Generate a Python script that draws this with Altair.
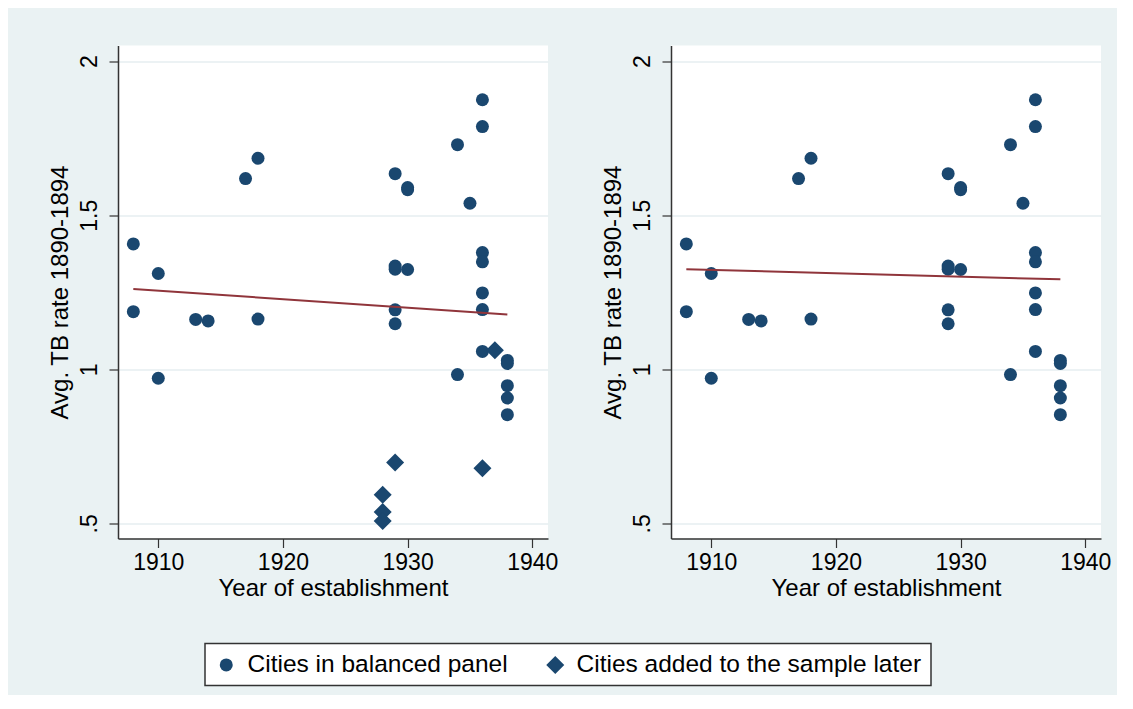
import altair as alt
import pandas as pd

# ---- data ----
circle_year = [1908, 1908, 1910, 1910, 1913, 1914, 1917, 1918, 1918,
               1929, 1929, 1929, 1929, 1929, 1930, 1930, 1930,
               1934, 1934, 1935,
               1936, 1936, 1936, 1936, 1936, 1936, 1936,
               1938, 1938, 1938, 1938, 1938]
circle_tb = [1.407, 1.187, 1.311, 0.971, 1.162, 1.157, 1.619, 1.685, 1.163,
             1.635, 1.335, 1.325, 1.193, 1.148, 1.590, 1.583, 1.324,
             1.729, 0.983, 1.539,
             1.875, 1.788, 1.379, 1.349, 1.248, 1.194, 1.058,
             1.029, 1.019, 0.947, 0.907, 0.853]

diamond_year = [1937, 1929, 1936, 1928, 1928, 1928]
diamond_tb = [1.062, 0.698, 0.679, 0.593, 0.537, 0.508]

fit_year = [1908, 1938]
fit_left = [1.261, 1.178]
fit_right = [1.325, 1.292]

groups = ["Cities in balanced panel", "Cities added to the sample later"]
x_ticks = [1910, 1920, 1930, 1940]
y_ticks = [0.5, 1, 1.5, 2]

# ---- tables ----
circles = pd.DataFrame({"year": circle_year, "tb": circle_tb, "group": groups[0]})
diamonds = pd.DataFrame({"year": diamond_year, "tb": diamond_tb, "group": groups[1]})
all_pts = pd.concat([circles, diamonds], ignore_index=True)
fitL = pd.DataFrame({"year": fit_year, "tb": fit_left})
fitR = pd.DataFrame({"year": fit_year, "tb": fit_right})

FONT = "Liberation Sans"
NAVY = "#1A476F"
MAROON = "#90353B"
AXC = "#333333"

xscale = alt.Scale(domain=[1906.77, 1941.26], nice=False, zero=False)
yscale = alt.Scale(domain=[0.451, 2.051], nice=False, zero=False)

xaxis = alt.Axis(values=x_ticks, title="Year of establishment", grid=False,
                 format="d", tickSize=9, labelPadding=4, titlePadding=2,
                 labelFontSize=23, titleFontSize=24, labelFont=FONT, titleFont=FONT,
                 titleFontWeight="normal",
                 domainColor=AXC, tickColor=AXC, domainWidth=1.5, tickWidth=1.2,
                 labelColor="black", titleColor="black", labelFlush=False)
yaxis = alt.Axis(values=y_ticks, title="Avg. TB rate 1890-1894", grid=True,
                 gridColor="#E6EEF1", gridWidth=1.6,
                 labelExpr="datum.value == 0.5 ? '.5' : toString(datum.value)",
                 labelAngle=270, labelAlign="center", labelBaseline="bottom",
                 tickSize=9, labelPadding=8, titlePadding=6,
                 labelFontSize=23, titleFontSize=24, labelFont=FONT, titleFont=FONT,
                 titleFontWeight="normal",
                 domainColor=AXC, tickColor=AXC, domainWidth=1.5, tickWidth=1.2,
                 labelColor="black", titleColor="black")

legend = alt.Legend(orient="none", legendX=87, legendY=598, direction="horizontal",
                    title=None, fillColor="white", strokeColor=AXC,
                    padding=9, labelFont=FONT, labelFontSize=24.5, labelColor="black",
                    labelOffset=9, columnPadding=35, symbolStrokeWidth=0,
                    symbolFillColor=NAVY, labelLimit=800)

shape_enc = alt.Shape("group:N", scale=alt.Scale(domain=groups, range=["circle", "diamond"]),
                      legend=legend)
size_enc = alt.Size("group:N", scale=alt.Scale(domain=groups, range=[169, 324]),
                    legend=legend)

W, H = 430, 493


def panel(pts, fit):
    p = alt.Chart(pts).mark_point(filled=True, color=NAVY, opacity=1).encode(
        x=alt.X("year:Q", scale=xscale, axis=xaxis),
        y=alt.Y("tb:Q", scale=yscale, axis=yaxis),
        shape=shape_enc,
        size=size_enc,
    )
    l = alt.Chart(fit).mark_line(color=MAROON, strokeWidth=2).encode(
        x=alt.X("year:Q", scale=xscale),
        y=alt.Y("tb:Q", scale=yscale),
    )
    return alt.layer(p, l).properties(width=W, height=H)


left = panel(all_pts, fitL)
right = panel(circles, fitR)

chart = alt.hconcat(left, right, spacing=43).resolve_scale(
    shape="shared", size="shared"
).properties(
    padding={"left": 40, "top": 37.5, "right": 6, "bottom": 8},
    background="#EAF2F3",
).configure_view(stroke=None, fill="white").configure_legend(strokeWidth=1.5)

chart.save("out.html", embed_options={"renderer": "svg", "actions": False})
